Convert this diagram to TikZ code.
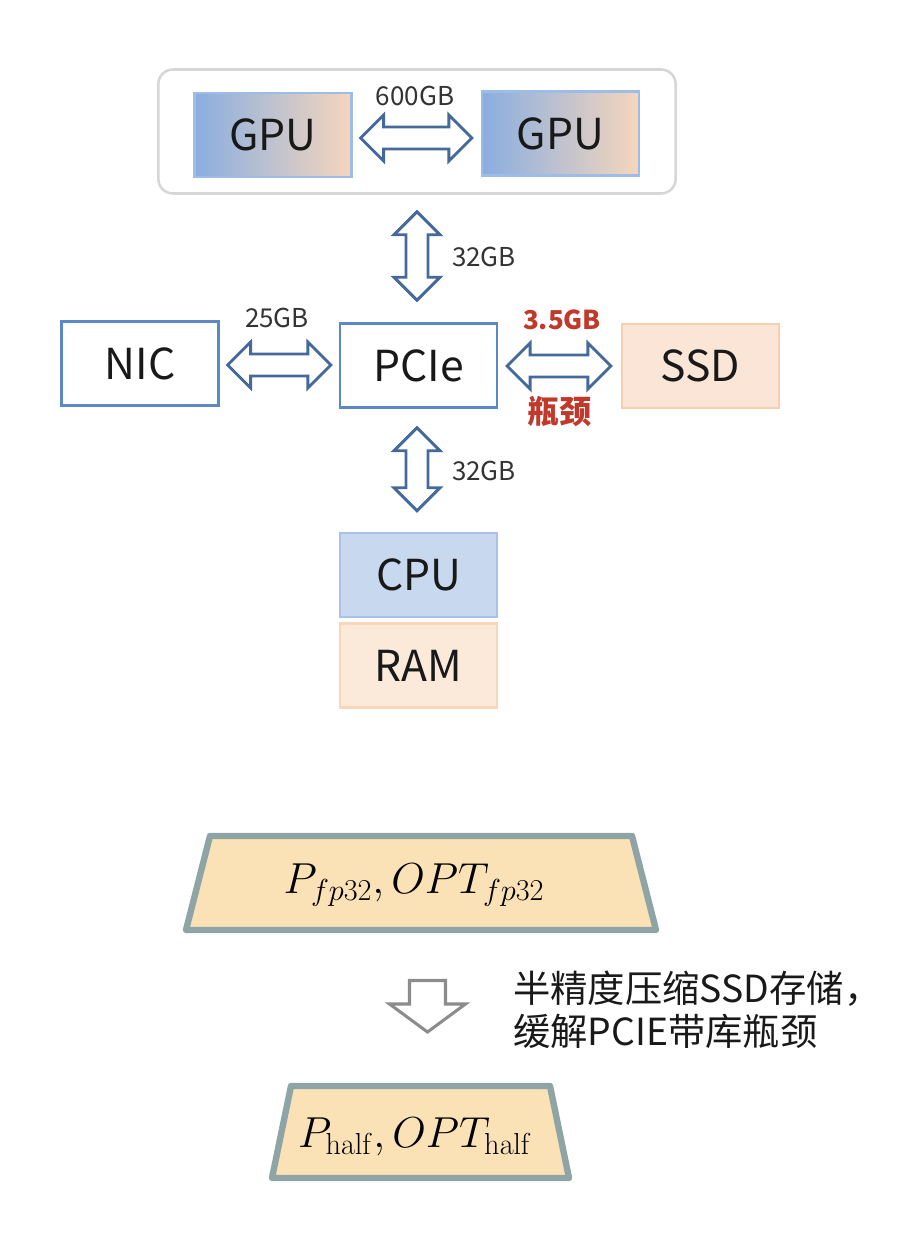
\RequirePackage{fix-cm}
\documentclass[tikz,border=0pt]{standalone}
\usepackage[no-math]{fontspec}
\newfontfamily\cjk{Noto Sans CJK SC}
\usetikzlibrary{calc}

\definecolor{arrowblue}{HTML}{45699A}
\definecolor{boxblue}{HTML}{5A88C8}
\definecolor{gpublue}{HTML}{8AAEE0}
\definecolor{gpupeach}{HTML}{F5D6BC}
\definecolor{gpuedge}{HTML}{9DBDE8}
\definecolor{ssdfill}{HTML}{FBE5D6}
\definecolor{ssdedge}{HTML}{F6CFAF}
\definecolor{cpufill}{HTML}{C8D8EF}
\definecolor{cpuedge}{HTML}{A8C2E9}
\definecolor{ramfill}{HTML}{FBE9DA}
\definecolor{ramedge}{HTML}{F7D6B9}
\definecolor{trapfill}{HTML}{FAE1B6}
\definecolor{trapedge}{HTML}{8FA4A5}
\definecolor{hotred}{HTML}{C0392B}
\definecolor{labelgray}{HTML}{333333}
\definecolor{framegray}{HTML}{D6D6D6}
\definecolor{stepgray}{HTML}{8C8C8C}

\tikzset{
  unitbox/.style={rectangle, inner sep=0pt, minimum width=117.5pt, minimum height=63pt,
    line width=1.9pt, font=\cjk\fontsize{32}{38}\selectfont, text=black!90},
  plainbox/.style={unitbox, draw=boxblue, fill=white},
  gpubox/.style={unitbox, draw=gpuedge, left color=gpublue, right color=gpupeach},
  bw/.style={font=\cjk\fontsize{19.5}{23}\selectfont, text=labelgray, inner sep=0pt},
  hot/.style={font=\cjk\bfseries\fontsize{19.5}{23}\selectfont, text=hotred, inner sep=0pt},
  dbl/.style={draw=arrowblue, fill=white, line width=2.2pt, line join=miter},
  trap/.style={draw=trapedge, fill=trapfill, line width=4.8pt, line join=round},
  mathtext/.style={inner sep=0pt, font=\fontsize{32.5}{38}\selectfont},
}

% horizontal block double arrow between two named points (left to right)
\newcommand\hdbl[2]{\draw[dbl] (#1) -- ++(23,-23) -- ++(0,12) -- ($(#2)+(-23,-11)$) -- ++(0,-12)
  -- (#2) -- ++(-23,23) -- ++(0,-12) -- ($(#1)+(23,11)$) -- ++(0,12) -- cycle;}
% vertical block double arrow between two named points (top to bottom)
\newcommand\vdbl[2]{\draw[dbl] (#1) -- ++(23,23) -- ++(-12,0) -- ($(#2)+(11,-23)$) -- ++(12,0)
  -- (#2) -- ++(-23,-23) -- ++(12,0) -- ($(#1)+(-11,23)$) -- ++(-12,0) -- cycle;}

\begin{document}
\begin{tikzpicture}[x=0.75pt, y=-0.75pt]
\useasboundingbox (0,0) rectangle (912,1259);

% GPU server frame
\node[draw=framegray, line width=1.9pt, rounded corners=11pt, minimum width=388pt,
      minimum height=93pt, inner sep=0pt] (server) at (417,131.5) {};
\node[gpubox] (gpu1) at (273,135) {GPU};
\node[gpubox] (gpu2) at (560.5,133.5) {GPU};

% interconnect
\node[plainbox] (pcie) at (418.5,365.5) {PCIe};
\node[plainbox] (nic) at (140,363.5) {NIC};
\node[unitbox, draw=ssdedge, fill=ssdfill] (ssd) at (700.5,366) {SSD};
\node[unitbox, draw=cpuedge, fill=cpufill] (cpu) at (418.5,575) {CPU};
\node[unitbox, draw=ramedge, fill=ramfill] (ram) at (418.5,665.5) {RAM};

% arrow end points
\coordinate (g1) at ($(gpu1.east)+(8,3)$);
\coordinate (g2) at ($(gpu2.west)+(-9,4.5)$);
\coordinate (t1) at ($(server.south)+(0,17)$);
\coordinate (t2) at ($(pcie.north)+(-1.5,-22)$);
\coordinate (n1) at ($(nic.east)+(8,1.5)$);
\coordinate (n2) at ($(pcie.west)+(-8,-0.5)$);
\coordinate (s1) at ($(pcie.east)+(9,0.5)$);
\coordinate (s2) at ($(ssd.west)+(-10,0)$);
\coordinate (c1) at ($(pcie.south)+(-1.5,19)$);
\coordinate (c2) at ($(cpu.north)+(-1.5,-21)$);

\hdbl{g1}{g2}
\vdbl{t1}{t2}
\hdbl{n1}{n2}
\hdbl{s1}{s2}
\vdbl{c1}{c2}

% bandwidth labels
\node[bw] (l600) at (415,96) {600GB};
\node[bw] (l32a) at (484,257) {32GB};
\node[bw] (l25) at (277,318) {25GB};
\node[hot] (l35) at (562,320) {3.5GB};
\node[font=\cjk\bfseries\fontsize{24}{28}\selectfont, text=hotred, inner sep=0pt] (lneck) at (559,412) {瓶颈};
\node[bw] (l32b) at (484,471) {32GB};

% fp32 state
\draw[trap] (210,836) -- (632,836) -- (656,930) -- (186,930) -- cycle;
\node[mathtext] (full) at (414,885) {$P_{fp32},OPT_{fp32}$};

% compression step
\draw[draw=stepgray, fill=white, line width=2.3pt, line join=miter]
  (409.5,980.5) -- (445.5,980.5) -- (445.5,1004) -- (465.5,1004) -- (427.5,1032)
  -- (389.5,1004) -- (409.5,1004) -- cycle;
\node[anchor=west, align=left, inner sep=0pt, font=\cjk\fontsize{28}{32}\selectfont, text=black!90]
  (note) at (513,1010) {半精度压缩SSD存储，\\缓解PCIE带库瓶颈};

% half-precision state
\draw[trap] (291,1086) -- (550,1086) -- (569,1178) -- (272,1178) -- cycle;
\node[mathtext] (half) at (415,1137) {$P_{\mathrm{half}},OPT_{\mathrm{half}}$};
\end{tikzpicture}
\end{document}
